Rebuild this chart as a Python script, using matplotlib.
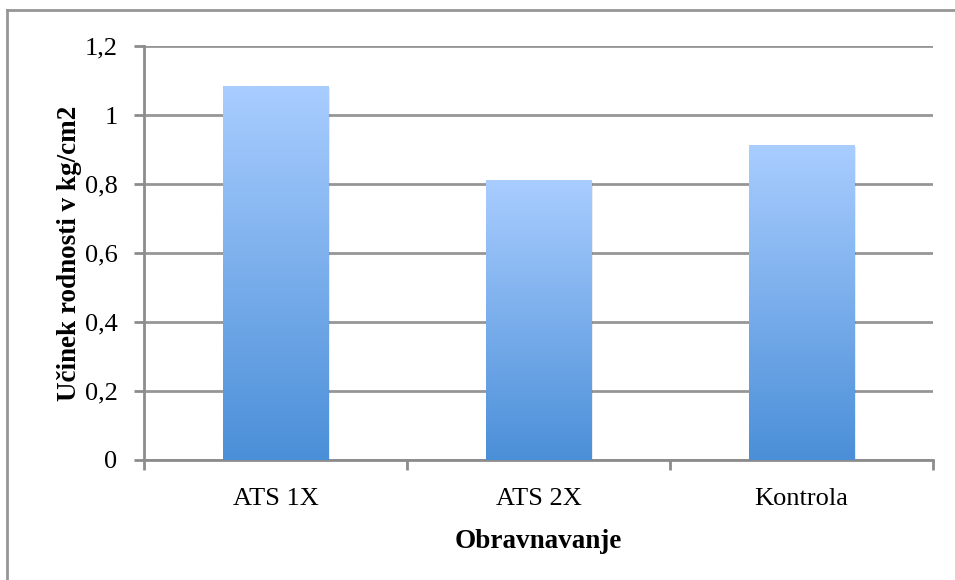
import matplotlib
matplotlib.use('Agg')
import matplotlib.pyplot as plt
import numpy as np
from matplotlib.colors import LinearSegmentedColormap
from matplotlib.patches import Rectangle
from matplotlib.lines import Line2D

categories = ['ATS 1X', 'ATS 2X', 'Kontrola']
values = [1.083, 0.81, 0.912]
yticks = [0, 0.2, 0.4, 0.6, 0.8, 1.0, 1.2]
ytick_labels = ['0', '0,2', '0,4', '0,6', '0,8', '1', '1,2']

plt.rcParams['font.family'] = ['Liberation Serif', 'DejaVu Serif']

fig = plt.figure(figsize=(9.55, 5.8), dpi=100)
fig.patch.set_facecolor('white')

# outer chart frame (only left and top edges visible)
fx, fy = 7 / 955, 1 - 10 / 580
fig.lines.append(Line2D([fx, fx], [0, fy], transform=fig.transFigure,
                        color='#969696', linewidth=2))
fig.lines.append(Line2D([fx, 1], [fy, fy], transform=fig.transFigure,
                        color='#969696', linewidth=2))

ax = fig.add_axes([144 / 955, 120 / 580, 789 / 955, 414 / 580])

grad_cmap = LinearSegmentedColormap.from_list('bar', ['#4b8fd8', '#a9cdff'])
grad = np.linspace(0, 1, 256).reshape(-1, 1)
width = 0.4
x = np.arange(len(categories))

for xi, v in zip(x, values):
    # soft shadow
    ax.add_patch(Rectangle((xi - width / 2 + 0.006, 0), width, v - 0.004,
                           facecolor='#000000', alpha=0.08, edgecolor='none', zorder=2))
    ax.imshow(grad, cmap=grad_cmap, origin='lower', aspect='auto',
              extent=(xi - width / 2, xi + width / 2, 0, v), zorder=3)

ax.set_xlim(-0.5, 2.5)
ax.set_ylim(0, 1.2)

ax.set_yticks(yticks)
ax.set_yticklabels(ytick_labels, fontsize=19)
ax.set_xticks(x)
ax.set_xticklabels(categories, fontsize=19)
ax.set_xticks([-0.5, 0.5, 1.5, 2.5], minor=True)
ax.tick_params(axis='x', which='major', length=0, pad=20)
ax.tick_params(axis='x', which='minor', length=7, width=2, color='#8c8c8c')
ax.tick_params(axis='y', length=7, width=2, color='#8c8c8c', pad=12)

ax.grid(axis='y', color='#969696', linewidth=2, zorder=1)
ax.set_axisbelow(True)
for s in ['top', 'right']:
    ax.spines[s].set_visible(False)
for s in ['left', 'bottom']:
    ax.spines[s].set_color('#8c8c8c')
    ax.spines[s].set_linewidth(2)

ax.set_ylabel('Učinek rodnosti v kg/cm2', fontsize=19.5, fontweight='bold', labelpad=2)
ax.set_xlabel('Obravnavanje', fontsize=19.5, fontweight='bold', labelpad=14)

plt.savefig('out.png', dpi=100, facecolor='white')
plt.close()
